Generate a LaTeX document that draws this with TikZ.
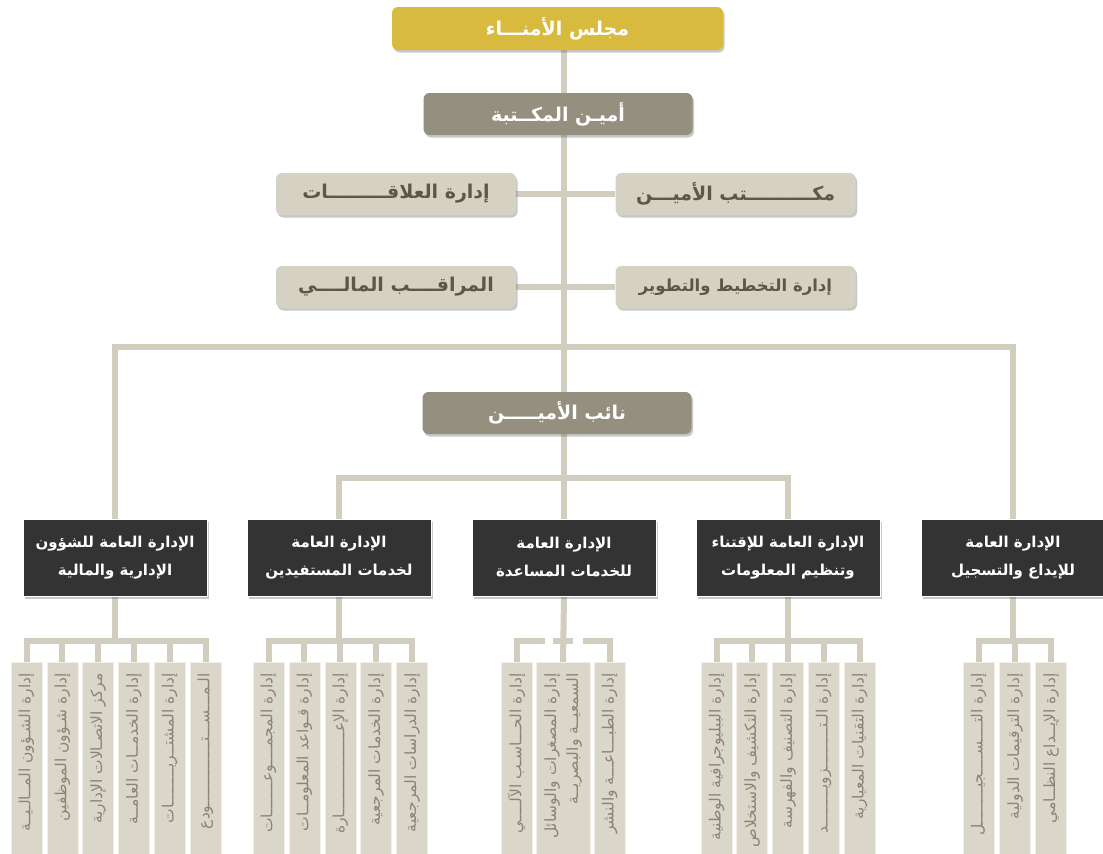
\documentclass[tikz,border=0pt]{standalone}
\usepackage{fontspec}
\usetikzlibrary{shadows}
\TeXXeTstate=1
\newfontfamily\arabicfont[Script=Arabic]{DejaVu Sans}
\newcommand{\artxt}[1]{{\arabicfont\beginR #1\endR}}
\definecolor{goldc}{HTML}{D8BB3E}
\definecolor{aminc}{HTML}{948F7F}
\definecolor{lightc}{HTML}{D5D2C4}
\definecolor{textdark}{HTML}{5C5849}
\definecolor{darkc}{HTML}{333333}
\definecolor{smallc}{HTML}{DAD7CA}
\definecolor{smalltext}{HTML}{8A8573}
\definecolor{linec}{HTML}{D1CEC0}
\pgfdeclarelayer{bg}
\pgfsetlayers{bg,main}
\begin{document}
\begin{tikzpicture}[x=1pt,y=-1pt,
  conn/.style={draw=linec, line width=6.5pt},
  sconn/.style={draw=linec, line width=6pt},
  box/.style={rectangle, inner sep=0pt, align=center},
  shad/.style={drop shadow={shadow xshift=1.5pt, shadow yshift=-2.5pt, opacity=0.3, fill=black!70}},
  goldbox/.style={box, shad, rounded corners=6pt, fill=goldc, text=white, minimum width=331pt, minimum height=43pt, font=\bfseries\fontsize{19}{22}\selectfont},
  aminbox/.style={box, shad, rounded corners=6pt, fill=aminc, text=white, minimum width=269pt, minimum height=42pt, font=\bfseries\fontsize{19}{22}\selectfont},
  lightbox/.style={box, shad, rounded corners=6pt, fill=lightc, text=textdark, minimum width=240pt, minimum height=42pt, font=\bfseries\fontsize{19}{22}\selectfont},
  darkbox/.style={box, shad, fill=darkc, draw=white, line width=0.8pt, text=white, minimum width=184pt, minimum height=77pt, font=\bfseries\fontsize{15}{28}\selectfont},
  sbox/.style={rectangle, rotate=90, inner sep=0pt, fill=smallc, draw=white!60!smallc, line width=0.6pt, minimum width=193pt, minimum height=31pt},
  sboxw/.style={sbox, minimum height=54pt},
  stext/.style={rotate=90, anchor=east, inner sep=0pt, text=smalltext, font=\fontsize{15.5}{22}\selectfont, align=right}
]
\useasboundingbox (0,0) rectangle (1103,854);
\coordinate (T) at (564,0);
\coordinate (barY) at (0,347);
\coordinate (midY) at (0,478);
\coordinate (sY) at (0,641);

% top
\node[goldbox] (board) at (557.5,28.5) {\artxt{مجلس الأمنـــاء}};
\node[aminbox] (amin) at (558,114) {\artxt{أميـن المكــتبة}};
\node[lightbox] (rel) at (396,194) {\artxt{إدارة العلاقـــــــــات}};
\node[lightbox] (office) at (735.5,194) {\artxt{مكــــــــــتب الأميـــن}};
\node[lightbox] (audit) at (396,287) {\artxt{المراقــــب المالــــي}};
\node[lightbox, font=\bfseries\fontsize{16.5}{20}\selectfont] (plan) at (735.5,287) {\artxt{إدارة التخطيط والتطوير}};
\node[aminbox] (naib) at (557,413) {\artxt{نائب الأميـــــن}};

% general directorates
\node[darkbox] (gA) at (115,557.5) {\artxt{الإدارة العامة للشؤون}\\\artxt{الإدارية والمالية}};
\node[darkbox] (gB) at (339,557.5) {\artxt{الإدارة العامة}\\\artxt{لخدمات المستفيدين}};
\node[darkbox] (gC) at (564,557.5) {\artxt{الإدارة العامة}\\\artxt{للخدمات المساعدة}};
\node[darkbox] (gD) at (788,557.5) {\artxt{الإدارة العامة للإقتناء}\\\artxt{وتنظيم المعلومات}};
\node[darkbox] (gE) at (1013,557.5) {\artxt{الإدارة العامة}\\\artxt{للإيداع والتسجيل}};

% small boxes group A
\node[sbox] (a1) at (26.5,759) {};
\node[sbox] (a2) at (62.3,759) {};
\node[sbox] (a3) at (98.1,759) {};
\node[sbox] (a4) at (133.9,759) {};
\node[sbox] (a5) at (169.7,759) {};
\node[sbox] (a6) at (205.5,759) {};
\node[stext] (a1t) at (26.5,673) {\artxt{إدارة الشـؤون المــالـيــة}};
\node[stext] (a2t) at (62.3,673) {\artxt{إدارة شـؤون الموظفين}};
\node[stext] (a3t) at (98.1,673) {\artxt{مركز الاتصـالات الإدارية}};
\node[stext] (a4t) at (133.9,673) {\artxt{إدارة الخدمــات العامــة}};
\node[stext] (a5t) at (169.7,673) {\artxt{إدارة المشتــريــــــــات}};
\node[stext] (a6t) at (205.5,673) {\artxt{الـمـــســـتــــــــــــــودع}};

% group B
\node[sbox] (b1) at (268.5,759) {};
\node[sbox] (b2) at (304.4,759) {};
\node[sbox] (b3) at (340.3,759) {};
\node[sbox] (b4) at (376.2,759) {};
\node[sbox] (b5) at (412.1,759) {};
\node[stext] (b1t) at (268.5,673) {\artxt{إدارة المجمــــوعـــــــات}};
\node[stext] (b2t) at (304.4,673) {\artxt{إدارة قـواعد المعلومــات}};
\node[stext] (b3t) at (340.3,673) {\artxt{إدارة الإعــــــــــــــــــارة}};
\node[stext] (b4t) at (376.2,673) {\artxt{إدارة الخدمات المرجعية}};
\node[stext] (b5t) at (412.1,673) {\artxt{إدارة الدراسات المرجعية}};

% group C
\node[sbox] (c1) at (516.5,759) {};
\node[sboxw] (c2) at (563,759) {};
\node[sbox] (c3) at (609.5,759) {};
\node[stext] (c1t) at (516.5,673) {\artxt{إدارة الحـــاسـب الآلــــي}};
\node[stext] (c2t) at (563,673) {\artxt{إدارة المصغرات والوسائل}\\\artxt{السمعيــة والبصريــة}};
\node[stext] (c3t) at (609.5,673) {\artxt{إدارة الطبـــاعـــة والنشر}};

% group D
\node[sbox] (d1) at (716.5,759) {};
\node[sbox] (d2) at (752.2,759) {};
\node[sbox] (d3) at (788,759) {};
\node[sbox] (d4) at (823.7,759) {};
\node[sbox] (d5) at (859.5,759) {};
\node[stext] (d1t) at (716.5,673) {\artxt{إدارة الببليوجرافية الوطنية}};
\node[stext] (d2t) at (752.2,673) {\artxt{إدارة التكشيف والاستخلاص}};
\node[stext] (d3t) at (788,673) {\artxt{إدارة التصنيف والفهرسة}};
\node[stext] (d4t) at (823.7,673) {\artxt{إدارة الـتـــــــــزويــــــــد}};
\node[stext] (d5t) at (859.5,673) {\artxt{إدارة التقنيات المعيارية}};

% group E
\node[sbox] (e1) at (978.5,759) {};
\node[sbox] (e2) at (1015,759) {};
\node[sbox] (e3) at (1051,759) {};
\node[stext] (e1t) at (978.5,673) {\artxt{إدارة التــــســــجيــــــــل}};
\node[stext] (e2t) at (1015,673) {\artxt{إدارة الترقيمات الدولية}};
\node[stext] (e3t) at (1051,673) {\artxt{إدارة الإيــداع النظــامي}};

\coordinate (cL) at (545,641);
\coordinate (cM1) at (553,641);
\coordinate (cM2) at (573,641);
\coordinate (cR) at (583,641);

\begin{pgfonlayer}{bg}
\fill[white] (0,0) rectangle (1103,854);
\draw[conn] (board.south -| T) -- (amin.north -| T);
\draw[conn] (amin.south -| T) -- (naib.north -| T);
\draw[conn] (naib.south -| T) -- (gC.north);
\draw[conn] (rel.east) -- (office.west);
\draw[conn] (audit.east) -- (plan.west);
\draw[conn] (gA.north) |- (gE.north |- barY) -- (gE.north);
\draw[conn] (gB.north) |- (gD.north |- midY) -- (gD.north);
% group A
\draw[sconn] (gA.south) -- (gA.south |- sY);
\draw[sconn] (a1.east) |- (a6.east |- sY) -- (a6.east);
\foreach \n in {a2,a3,a4,a5} \draw[sconn] (\n.east) -- (\n.east |- sY);
% group B
\draw[sconn] (gB.south) -- (gB.south |- sY);
\draw[sconn] (b1.east) |- (b5.east |- sY) -- (b5.east);
\foreach \n in {b2,b3,b4} \draw[sconn] (\n.east) -- (\n.east |- sY);
% group C
\draw[sconn] (c1.east) |- (cL);
\draw[sconn] (gC.south) -- (c2.east);
\draw[sconn] (cM1) -- (cM2);
\draw[sconn] (cR) -| (c3.east);
% group D
\draw[sconn] (gD.south) -- (gD.south |- sY);
\draw[sconn] (d1.east) |- (d5.east |- sY) -- (d5.east);
\foreach \n in {d2,d3,d4} \draw[sconn] (\n.east) -- (\n.east |- sY);
% group E
\draw[sconn] (gE.south) -- (gE.south |- sY);
\draw[sconn] (e1.east) |- (e3.east |- sY) -- (e3.east);
\draw[sconn] (e2.east) -- (e2.east |- sY);
\end{pgfonlayer}
\end{tikzpicture}
\end{document}
